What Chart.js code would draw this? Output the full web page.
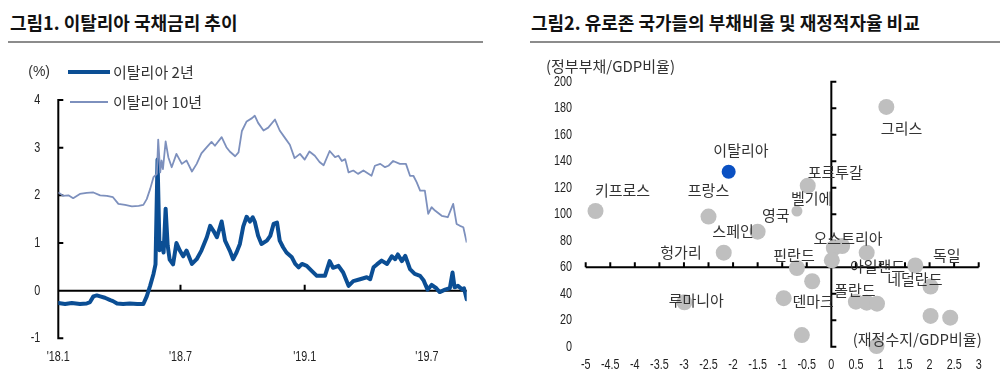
<!DOCTYPE html>
<html><head><meta charset="utf-8">
<script src="https://cdn.jsdelivr.net/npm/chart.js@4.4.1/dist/chart.umd.min.js"></script>
<style>
html,body{margin:0;padding:0;background:#fff;}
body{width:1000px;height:375px;position:relative;overflow:hidden;font-family:"Noto Sans CJK KR",sans-serif;}
.title{position:absolute;top:8px;font-weight:bold;font-size:18px;color:#111;white-space:nowrap;line-height:28px;}
.rule{position:absolute;top:40.5px;height:2px;background:#8c8c8c;}
.wrap{position:absolute;top:0;width:500px;height:375px;}
</style></head>
<body>
<div class="title" style="left:10px">그림1. 이탈리아 국채금리 추이</div>
<div class="rule" style="left:8px;width:475px"></div>
<div class="title" style="left:531px">그림2. 유로존 국가들의 부채비율 및 재정적자율 비교</div>
<div class="rule" style="left:530px;width:470px"></div>
<div class="wrap" style="left:0"><canvas id="c1" width="500" height="375"></canvas></div>
<div class="wrap" style="left:500px"><canvas id="c2" width="500" height="375"></canvas></div>
<script>
// ---------- Figure 1 data: days since 2018-01-01 ----------
const days10 = [0,7,15,22,32,42,52,62,72,81,89,99,109,119,126,131,136,141,146,148,151,153,155,159,163,168,175,183,190,198,205,212,220,227,232,242,249,254,262,267,272,279,287,291,296,304,311,321,328,336,343,350,358,365,372,380,387,393,402,410,415,420,425,430,437,444,452,464,469,477,484,489,496,506,515,521,526,531,536,543,548,553,558,568,577,585,590,595,600,605];
const yield10 = [2.06,1.99,2.00,1.94,2.03,2.05,2.06,2.00,1.99,1.96,1.82,1.80,1.77,1.78,1.80,1.92,2.13,2.38,2.45,3.17,2.48,2.73,2.55,3.13,2.80,2.59,2.87,2.66,2.73,2.50,2.66,2.88,3.01,3.12,3.04,3.22,3.01,2.92,2.82,2.90,3.35,3.55,3.62,3.67,3.52,3.36,3.42,3.59,3.36,3.20,3.06,2.78,2.87,2.75,2.92,2.83,2.70,2.63,2.93,2.80,2.83,2.72,2.76,2.48,2.52,2.45,2.52,2.41,2.62,2.66,2.59,2.62,2.72,2.66,2.66,2.41,2.41,2.27,2.10,2.10,1.61,1.75,1.68,1.57,1.54,1.82,1.40,1.36,1.33,1.01];
const days2 = [0,10,20,32,42,47,52,57,62,69,77,81,87,96,106,117,126,131,136,141,144,147,150,153,156,159,162,165,170,175,180,185,190,198,205,212,220,225,230,235,242,247,254,259,264,269,274,279,284,288,291,296,301,309,314,319,324,328,333,338,346,351,356,361,368,375,383,388,395,402,407,415,422,430,437,447,457,462,467,472,479,487,494,499,503,509,514,521,528,536,541,547,553,560,565,573,580,584,587,592,598,601,605];
const yield2 = [-0.26,-0.28,-0.26,-0.28,-0.27,-0.24,-0.12,-0.10,-0.12,-0.15,-0.20,-0.22,-0.27,-0.28,-0.27,-0.28,-0.28,-0.12,0.10,0.35,0.55,2.75,0.85,1.00,0.80,1.72,0.95,0.65,0.55,1.00,0.84,0.72,0.84,0.56,0.66,0.84,1.12,1.36,1.25,1.12,1.45,1.05,0.84,0.66,0.80,0.98,1.35,1.55,1.45,1.54,1.45,1.15,0.98,1.05,1.15,1.40,1.43,1.05,0.91,0.80,0.70,0.56,0.49,0.56,0.52,0.42,0.31,0.31,0.31,0.62,0.48,0.52,0.38,0.10,0.20,0.24,0.28,0.24,0.49,0.55,0.63,0.56,0.72,0.66,0.76,0.62,0.73,0.45,0.35,0.31,0.22,0.02,0.12,0.05,-0.03,0.02,0.05,0.38,0.07,0.10,0.03,0.05,-0.18];
const seriesNames = ['이탈리아 2년','이탈리아 10년'];
const xTickDays = [0,181,365,546];
const xTickLabels = ["'18.1","'18.7","'19.1","'19.7"];
const yTicks1 = [-1,0,1,2,3,4];

// ---------- Figure 2 data ----------
const countries = ['그리스','이탈리아','포르투갈','벨기에','키프로스','프랑스','영국','오스트리아','크로아티아','슬로베니아','헝가리','아일랜드','핀란드','독일','폴란드','몰타','라트비아','루마니아','덴마크','리투아니아','체코','불가리아','룩셈부르크','에스토니아','기타'];
const balance = [1.12,-2.09,-0.48,-0.70,-4.80,-2.50,-1.50,0.05,0.22,0.72,-2.19,0.01,-0.70,1.71,-0.39,2.02,-0.97,-2.99,0.50,0.72,0.93,2.02,2.42,-0.60,0.92];
const debt = [181,132,121.5,102.4,102.4,98.2,86.8,74.5,76,71,71,65.2,59.4,61.3,49.4,45.4,36.6,33.5,34,33.2,32.5,23.2,21.9,8.8,0.5];
const xTicks2 = [-5,-4.5,-4,-3.5,-3,-2.5,-2,-1.5,-1,-0.5,0,0.5,1,1.5,2,2.5,3];
const yTicks2 = [0,20,40,60,80,100,120,140,160,180,200];
const labelTexts = ['그리스','이탈리아','포르투갈','키프로스','프랑스','벨기에','영국','스페인','오스트리아','헝가리','핀란드','독일','아일랜드','네덜란드','폴란드','루마니아','덴마크'];
// label anchor placement (data units), kept separate from the data
const labelAt = [[1.43,164.8],[-1.84,148.5],[0.08,132],[-4.25,118.3],[-2.5,118.3],[-0.4,112],[-1.13,98.9],[-2.0,86.8],[0.34,81.8],[-3.06,71],[-0.76,69.2],[2.35,69.2],[0.94,60.9],[1.70,50.9],[0.48,42.3],[-2.75,35.2],[-0.37,34]];

const KR = '"Noto Sans CJK KR", sans-serif';
const TICKFONT = '15px "Liberation Sans", Arial, sans-serif';
const SQ = 0.72; // condensed tick lettering
const C2 = '#0b4e94', C10 = '#7d90bd';
const TXT = '#333';

Chart.defaults.animation = false;

function squishText(ctx, text, x, y, align){
  ctx.save();
  ctx.translate(x, y); ctx.scale(SQ, 1);
  ctx.textAlign = align; ctx.textBaseline = 'middle';
  ctx.fillText(text, 0, 0);
  ctx.restore();
}

// ---------- Figure 1 ----------
const axes1 = {
  id:'axes1',
  beforeDatasetsDraw(chart){
    const {ctx, scales:{x,y}} = chart;
    ctx.save();
    ctx.strokeStyle='#000'; ctx.lineWidth=2; ctx.lineCap='butt';
    const xl = x.getPixelForValue(0), xr = x.getPixelForValue(605);
    ctx.beginPath();
    ctx.moveTo(xl, y.getPixelForValue(4)); ctx.lineTo(xl, y.getPixelForValue(-1));
    yTicks1.forEach(v=>{const p=y.getPixelForValue(v); ctx.moveTo(xl-1,p); ctx.lineTo(xl+5,p);});
    const y0 = y.getPixelForValue(0);
    ctx.moveTo(xl,y0); ctx.lineTo(xr,y0);
    xTickDays.forEach(d=>{ if(d===0) return; const p=x.getPixelForValue(d); ctx.moveTo(p,y0); ctx.lineTo(p,y0-6);});
    ctx.stroke();
    ctx.restore();
  },
  afterDraw(chart){
    const {ctx, scales:{x,y}, chartArea:a} = chart;
    ctx.save();
    ctx.fillStyle='#222'; ctx.font=TICKFONT;
    yTicks1.forEach(v=>squishText(ctx, String(v), a.left-18, y.getPixelForValue(v), 'right'));
    xTickDays.forEach((d,i)=>squishText(ctx, xTickLabels[i], x.getPixelForValue(d), a.bottom+18.4, 'center'));
    ctx.fillStyle=TXT; ctx.textBaseline='middle';
    ctx.font='14px "Liberation Sans", Arial'; ctx.textAlign='right';
    ctx.fillText('(%)', 50, 72);
    ctx.textAlign='left'; ctx.font='15px '+KR;
    ctx.strokeStyle=C2; ctx.lineWidth=4; ctx.beginPath(); ctx.moveTo(68,72); ctx.lineTo(110,72); ctx.stroke();
    ctx.fillText(seriesNames[0], 113, 72);
    ctx.strokeStyle=C10; ctx.lineWidth=1.8; ctx.beginPath(); ctx.moveTo(70,102); ctx.lineTo(108,102); ctx.stroke();
    ctx.fillText(seriesNames[1], 113, 102);
    ctx.restore();
  }
};
new Chart(document.getElementById('c1'), {
  type:'line',
  data:{datasets:[
    {label:seriesNames[1], data:days10.map((d,i)=>({x:d,y:yield10[i]})), borderColor:C10, borderWidth:1.8, pointRadius:0, tension:0, borderJoinStyle:'round'},
    {label:seriesNames[0], data:days2.map((d,i)=>({x:d,y:yield2[i]})), borderColor:C2, borderWidth:4, pointRadius:0, tension:0, borderJoinStyle:'round', borderCapStyle:'round'}
  ]},
  options:{
    responsive:false, animation:false,
    layout:{padding:{left:0,top:100,right:33.3,bottom:6.7}},
    plugins:{legend:{display:false}, tooltip:{enabled:false}},
    scales:{
      x:{type:'linear', min:0, max:605,
        grid:{display:false, drawTicks:false}, border:{display:false},
        afterBuildTicks(s){ s.ticks = xTickDays.map(v=>({value:v})); },
        afterFit(s){ s.height = 30; },
        ticks:{display:false}
      },
      y:{type:'linear', min:-1, max:4,
        grid:{display:false, drawTicks:false}, border:{display:false},
        afterBuildTicks(s){ s.ticks = yTicks1.map(v=>({value:v})); },
        afterFit(s){ s.width = 58.3; },
        ticks:{display:false}
      }
    }
  },
  plugins:[axes1]
});

// ---------- Figure 2 ----------
const axes2 = {
  id:'axes2',
  beforeDatasetsDraw(chart){
    const {ctx, scales:{x,y}} = chart;
    ctx.save();
    ctx.strokeStyle='#000'; ctx.lineWidth=2;
    const x0 = x.getPixelForValue(0), y60 = y.getPixelForValue(60);
    ctx.beginPath();
    ctx.moveTo(x.getPixelForValue(-5), y60); ctx.lineTo(x.getPixelForValue(3), y60);
    xTicks2.forEach(v=>{const p=x.getPixelForValue(v); ctx.moveTo(p,y60); ctx.lineTo(p,y60-5);});
    ctx.moveTo(x0, y.getPixelForValue(200)); ctx.lineTo(x0, y.getPixelForValue(0));
    yTicks2.forEach(v=>{const p=y.getPixelForValue(v); ctx.moveTo(x0-1,p); ctx.lineTo(x0+5,p);});
    ctx.stroke();
    ctx.restore();
  },
  afterDatasetsDraw(chart){
    const {ctx, scales:{x,y}, chartArea:a} = chart;
    ctx.save();
    ctx.fillStyle='#222'; ctx.font=TICKFONT;
    yTicks2.forEach(v=>squishText(ctx, String(v), a.left-13.7, y.getPixelForValue(v), 'right'));
    xTicks2.forEach(v=>squishText(ctx, String(v), x.getPixelForValue(v), a.bottom+18.3, 'center'));
    ctx.fillStyle=TXT; ctx.font='15px '+KR; ctx.textBaseline='middle'; ctx.textAlign='center';
    labelTexts.forEach((t,i)=>ctx.fillText(t, x.getPixelForValue(labelAt[i][0]), y.getPixelForValue(labelAt[i][1])));
    ctx.textAlign='left';
    ctx.fillText('(정부부채/GDP비율)', a.left-39.7, a.top-15);
    ctx.textAlign='right';
    ctx.fillText('(재정수지/GDP비율)', a.right+3, a.bottom-7.4);
    ctx.restore();
  }
};
new Chart(document.getElementById('c2'), {
  type:'scatter',
  data:{datasets:[{
    label:'부채비율',
    data:balance.map((b,i)=>({x:b,y:debt[i]})),
    backgroundColor:countries.map(c=>c==='이탈리아'?'#0a50c2':'#bfbfbf'),
    borderWidth:0,
    pointRadius:countries.map(c=>c==='이탈리아'?7:(c==='벨기에'?5.5:8)),
    clip:false
  }]},
  options:{
    responsive:false, animation:false,
    layout:{padding:{left:0,top:81.7,right:21.3,bottom:4.3}},
    plugins:{legend:{display:false}, tooltip:{enabled:false}},
    scales:{
      x:{type:'linear', min:-5, max:3,
        grid:{display:false, drawTicks:false}, border:{display:false},
        afterBuildTicks(s){ s.ticks = xTicks2.map(v=>({value:v})); },
        afterFit(s){ s.height = 24; },
        ticks:{display:false}
      },
      y:{type:'linear', min:0, max:200,
        grid:{display:false, drawTicks:false}, border:{display:false},
        afterBuildTicks(s){ s.ticks = yTicks2.map(v=>({value:v})); },
        afterFit(s){ s.width = 85.7; },
        ticks:{display:false}
      }
    }
  },
  plugins:[axes2]
});
</script>
</body></html>
